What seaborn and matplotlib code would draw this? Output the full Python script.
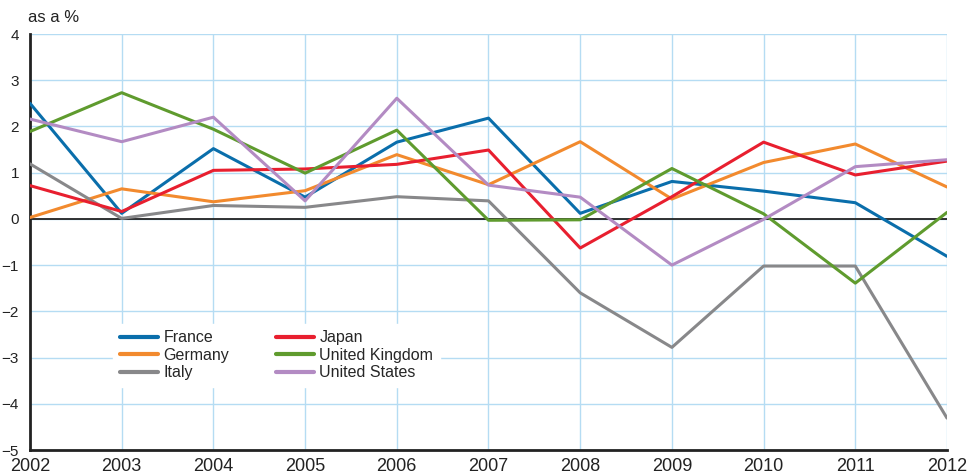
import pandas as pd
import matplotlib
matplotlib.use('Agg')
import matplotlib.pyplot as plt
import seaborn as sns

years = list(range(2002, 2013))
france = [2.50, 0.12, 1.52, 0.47, 1.66, 2.18, 0.12, 0.81, 0.60, 0.35, -0.81]
germany = [0.03, 0.65, 0.37, 0.61, 1.39, 0.74, 1.67, 0.43, 1.22, 1.62, 0.69]
italy = [1.19, 0.01, 0.29, 0.25, 0.48, 0.39, -1.60, -2.78, -1.02, -1.02, -4.31]
japan = [0.72, 0.16, 1.05, 1.08, 1.18, 1.49, -0.63, 0.48, 1.66, 0.95, 1.25]
uk = [1.89, 2.73, 1.94, 0.99, 1.92, -0.03, -0.02, 1.09, 0.11, -1.39, 0.14]
us = [2.16, 1.67, 2.20, 0.39, 2.61, 0.73, 0.47, -1.00, -0.01, 1.13, 1.28]

countries = ['France', 'Germany', 'Italy', 'Japan', 'United Kingdom', 'United States']
colors = ['#0a6eab', '#f28a2e', '#88888a', '#e81f2f', '#5f9b2e', '#b38bc3']

df = pd.DataFrame({'year': years, 'France': france, 'Germany': germany, 'Italy': italy,
                   'Japan': japan, 'United Kingdom': uk, 'United States': us})
long = df.melt(id_vars='year', var_name='country', value_name='value')

sns.set_style('white')
plt.rcParams['font.family'] = ['Liberation Sans']

fig = plt.figure(figsize=(9.74, 4.76), dpi=100)
ax = fig.add_axes([30 / 974, 26 / 476, 917 / 974, 416 / 476])

sns.lineplot(data=long, x='year', y='value', hue='country', hue_order=countries,
             palette=colors, linewidth=2.2, ax=ax, zorder=3)
ax.axhline(0, color='#222222', linewidth=1.3, zorder=2)

ax.set_xlim(2002, 2012)
ax.set_ylim(-5, 4)
ax.set_xticks(years)
ax.set_yticks(range(-5, 5))
ax.set_yticklabels([str(v).replace('-', '\u2212') for v in range(-5, 5)])
ax.grid(True, color='#b5dcf3', linewidth=1.0, zorder=0)
ax.set_axisbelow(True)
ax.set_xlabel('')
ax.set_ylabel('')
for s in ['top', 'right']:
    ax.spines[s].set_visible(False)
for s in ['left', 'bottom']:
    ax.spines[s].set_color('#222222')
    ax.spines[s].set_linewidth(2)
ax.tick_params(axis='x', length=0, labelsize=13, pad=6, colors='#222222')
ax.tick_params(axis='y', length=0, labelsize=11, pad=8, colors='#222222')

leg = ax.legend(loc='upper left', bbox_to_anchor=(0.082, 0.322), ncol=2, frameon=True,
                fontsize=11.5, handlelength=2.4, columnspacing=2.9, labelspacing=0.15,
                handletextpad=0.35, borderpad=0.4)
leg.get_frame().set_facecolor('white')
leg.get_frame().set_edgecolor('white')
leg.get_frame().set_alpha(1)
for line in leg.get_lines():
    line.set_linewidth(3)

fig.text(28 / 974, 1 - 18 / 476, 'as a %', fontsize=12, color='#222222', va='center')

plt.savefig('out.png', dpi=100)
